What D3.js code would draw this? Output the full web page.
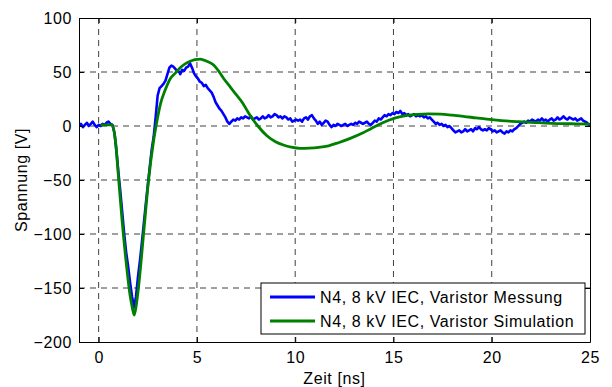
<!DOCTYPE html>
<html>
<head>
<meta charset="utf-8">
<script src="https://cdnjs.cloudflare.com/ajax/libs/d3/7.8.5/d3.min.js"></script>
<style>
  html, body { margin: 0; padding: 0; background: #fff; }
  text { font-family: "Liberation Sans", Arial, sans-serif; }
</style>
</head>
<body>
<div id="chart"></div>
<script>
// ticks
var xTicks = [0, 5, 10, 15, 20, 25];
var yTicks = [-200, -150, -100, -50, 0, 50, 100];
var xLabel = "Zeit [ns]";
var yLabel = "Spannung [V]";
var legendNames = ["N4, 8 kV IEC, Varistor Messung", "N4, 8 kV IEC, Varistor Simulation"];

// measurement (blue), [t ns, U V]
var messung = [
  [-1.0,0],[-0.9,2],[-0.8,-1],[-0.7,1],[-0.6,3],[-0.5,0],[-0.4,2],[-0.3,4],[-0.2,1],[-0.1,-1],
  [0.0,1],[0.1,0],[0.2,2],[0.3,1],[0.4,3],[0.5,4],[0.6,2],[0.7,1],[0.8,-6],[0.9,-22],
  [1.0,-42],[1.1,-60],[1.2,-80],[1.3,-100],[1.4,-117],[1.5,-130],[1.6,-145],[1.7,-158],[1.8,-168],[1.9,-158],
  [2.0,-140],[2.1,-125],[2.2,-108],[2.3,-90],[2.4,-72],[2.5,-55],[2.6,-38],[2.7,-22],[2.8,-10],[2.9,8],
  [3.0,28],[3.1,35],[3.2,37],[3.3,39],[3.4,42],[3.5,48],[3.6,54],[3.7,56],[3.8,55],[3.9,53],
  [4.0,51],[4.1,50],[4.15,48],[4.25,52],[4.35,51],[4.45,54],[4.55,55],[4.65,58],[4.75,54],[4.85,49],
  [4.95,46],[5.05,44],[5.15,41],[5.25,40],[5.35,37],[5.45,38],[5.55,35],[5.65,33],[5.75,31],[5.85,27],
  [5.95,22],[6.05,19],[6.15,16],[6.25,14],[6.35,11],[6.45,8],[6.55,4],[6.65,2],[6.75,4],[6.85,6],
  [6.95,5],[7.05,7],[7.15,6],[7.25,8],[7.35,7],[7.45,9],[7.55,8],[7.65,7],[7.75,9],[7.85,6],
  [7.95,7],[8.05,8],[8.15,6],[8.25,7],[8.35,9],[8.45,7],[8.55,8],[8.65,10],[8.75,8],[8.85,9],
  [8.95,11],[9.05,10],[9.15,8],[9.25,9],[9.35,7],[9.45,9],[9.55,8],[9.65,6],[9.75,7],[9.85,4],
  [9.95,5],[10.05,6],[10.15,5],[10.25,6],[10.35,4],[10.45,7],[10.55,8],[10.65,6],[10.75,9],[10.85,10],
  [10.95,7],[11.05,5],[11.15,2],[11.25,4],[11.35,1],[11.45,3],[11.55,5],[11.65,4],[11.75,1],[11.85,-1],
  [11.95,1],[12.05,0],[12.15,2],[12.25,1],[12.35,0],[12.45,1],[12.55,2],[12.65,0],[12.75,1],[12.85,2],
  [12.95,1],[13.05,3],[13.15,2],[13.25,4],[13.35,3],[13.45,2],[13.55,3],[13.65,4],[13.75,2],[13.85,1],
  [13.95,3],[14.05,5],[14.15,4],[14.25,7],[14.35,6],[14.45,8],[14.55,10],[14.65,9],[14.75,11],[14.85,10],
  [14.95,12],[15.05,11],[15.15,13],[15.25,12],[15.35,14],[15.45,11],[15.55,12],[15.65,10],[15.75,11],[15.85,9],
  [15.95,10],[16.05,11],[16.15,9],[16.25,10],[16.35,9],[16.45,10],[16.55,8],[16.65,9],[16.75,7],[16.85,8],
  [16.95,6],[17.05,4],[17.15,2],[17.25,3],[17.35,1],[17.45,2],[17.55,0],[17.65,1],[17.75,-1],[17.85,0],
  [17.95,-2],[18.05,-4],[18.15,-6],[18.25,-5],[18.35,-4],[18.45,-6],[18.55,-5],[18.65,-3],[18.75,-5],[18.85,-4],
  [18.95,-3],[19.05,-5],[19.15,-2],[19.25,-3],[19.35,-1],[19.45,-3],[19.55,-4],[19.65,-3],[19.75,-4],[19.85,-2],
  [19.95,-3],[20.05,-5],[20.15,-4],[20.25,-6],[20.35,-5],[20.45,-4],[20.55,-6],[20.65,-7],[20.75,-5],[20.85,-6],
  [20.95,-4],[21.05,-5],[21.15,-3],[21.25,-2],[21.35,0],[21.45,2],[21.55,3],[21.65,4],[21.75,3],[21.85,5],
  [21.95,4],[22.05,6],[22.15,5],[22.25,4],[22.35,6],[22.45,5],[22.55,7],[22.65,5],[22.75,6],[22.85,4],
  [22.95,6],[23.05,7],[23.15,5],[23.25,6],[23.35,8],[23.45,6],[23.55,7],[23.65,9],[23.75,7],[23.85,6],
  [23.95,8],[24.05,7],[24.15,6],[24.25,7],[24.35,5],[24.45,6],[24.55,7],[24.65,5],[24.75,4],[24.85,3],
  [24.95,1],[25.0,1]
];

// simulation (green), [t ns, U V]
var simulation = [
  [0.1,1],[0.5,1],[0.68,1],[0.85,-13],[1.02,-50],[1.19,-87],[1.44,-133],[1.6,-157],[1.7,-167],[1.81,-175],
  [1.92,-165],[2.03,-149],[2.29,-99],[2.54,-50],[2.8,-13],[2.95,3],[3.14,20],[3.4,34],[3.65,44],[3.9,49],
  [4.15,54],[4.4,57.5],[4.66,60],[4.9,61.5],[5.17,62],[5.5,60],[5.85,56.5],[6.1,51],[6.36,44],[6.7,36],
  [7.0,29],[7.3,22],[7.6,13],[7.85,6],[8.1,0],[8.56,-9],[9.0,-14.5],[9.4,-17.6],[9.8,-19.6],[10.25,-20.7],
  [10.7,-20.5],[11.2,-19.8],[11.7,-18.3],[12.2,-15.5],[12.8,-11.5],[13.4,-6.8],[13.9,-2],[14.4,2.5],[15.1,7.5],[15.7,9.8],
  [16.2,10.8],[16.8,11.2],[17.4,11],[18.0,10],[18.55,9],[19.2,7.5],[19.75,6.3],[20.5,5],[21.35,4],[22.2,3.2],
  [23.05,2.5],[24.0,2.1],[25.0,1.8]
];

var W = 612, H = 387;
var fs = 16, ls = "0.6px";

var svg = d3.select("#chart").append("svg").attr("width", W).attr("height", H);

var x = d3.scaleLinear().domain([-1, 25]).range([79, 590]);
var y = d3.scaleLinear().domain([-200, 100]).range([342, 18]);

// grid
svg.selectAll(".gx").data(xTicks.filter(function(d){return d > -1 && d < 25;})).enter().append("line")
  .attr("x1", function(d){return x(d);}).attr("x2", function(d){return x(d);})
  .attr("y1", y(100)).attr("y2", y(-200))
  .attr("stroke", "#404040").attr("stroke-width", 1).attr("stroke-dasharray", "6,5");
svg.selectAll(".gy").data(yTicks.filter(function(d){return d > -200 && d < 100;})).enter().append("line")
  .attr("x1", x(-1)).attr("x2", x(25))
  .attr("y1", function(d){return y(d);}).attr("y2", function(d){return y(d);})
  .attr("stroke", "#404040").attr("stroke-width", 1).attr("stroke-dasharray", "6,5");

// clip
svg.append("clipPath").attr("id", "clip").append("rect")
  .attr("x", x(-1)).attr("y", y(100)).attr("width", x(25) - x(-1)).attr("height", y(-200) - y(100));

var line = d3.line().x(function(d){return x(d[0]);}).y(function(d){return y(d[1]);});

svg.append("path").datum(messung).attr("d", line).attr("clip-path", "url(#clip)")
  .attr("fill", "none").attr("stroke", "#0000ff").attr("stroke-width", 2.6).attr("stroke-linejoin", "round");
svg.append("path").datum(simulation).attr("d", line.curve(d3.curveMonotoneX)).attr("clip-path", "url(#clip)")
  .attr("fill", "none").attr("stroke", "#008000").attr("stroke-width", 2.8).attr("stroke-linejoin", "round");

// axes, ticks inward
var axBottom = svg.append("g").attr("transform", "translate(0," + y(-200) + ")")
  .call(d3.axisBottom(x).tickValues(xTicks).tickSizeInner(-5).tickSizeOuter(0).tickPadding(9));
var axTop = svg.append("g").attr("transform", "translate(0," + y(100) + ")")
  .call(d3.axisTop(x).tickValues(xTicks).tickSizeInner(-5).tickSizeOuter(0).tickFormat(""));
var axLeft = svg.append("g").attr("transform", "translate(" + x(-1) + ",0)")
  .call(d3.axisLeft(y).tickValues(yTicks).tickSizeInner(-5).tickSizeOuter(0).tickPadding(7));
var axRight = svg.append("g").attr("transform", "translate(" + x(25) + ",0)")
  .call(d3.axisRight(y).tickValues(yTicks).tickSizeInner(-5).tickSizeOuter(0).tickFormat(""));
[axBottom, axTop, axLeft, axRight].forEach(function(g){
  g.selectAll("path").attr("stroke", "#000").attr("stroke-width", 1);
  g.selectAll("line").attr("stroke", "#000");
  g.selectAll("text").attr("font-size", fs).attr("fill", "#000").style("letter-spacing", ls)
    .style("font-family", "'Liberation Sans', Arial, sans-serif");
});
axBottom.selectAll("text").attr("dy", "0.75em");

// labels
svg.append("text").attr("x", (x(-1) + x(25)) / 2).attr("y", 384).attr("text-anchor", "middle")
  .attr("font-size", fs).style("letter-spacing", ls).text(xLabel);
svg.append("text").attr("transform", "translate(27," + ((y(100) + y(-200)) / 2) + ") rotate(-90)")
  .attr("text-anchor", "middle").attr("font-size", fs).style("letter-spacing", ls).text(yLabel);

// legend
var lg = svg.append("g");
lg.append("rect").attr("x", 261).attr("y", 283).attr("width", 324).attr("height", 51)
  .attr("fill", "#fff").attr("stroke", "#000").attr("stroke-width", 1);
var legendColors = ["#0000ff", "#008000"];
legendNames.forEach(function(name, i){
  var ly = 297 + i * 24;
  lg.append("line").attr("x1", 270).attr("x2", 315).attr("y1", ly).attr("y2", ly)
    .attr("stroke", legendColors[i]).attr("stroke-width", 3);
  lg.append("text").attr("x", 320).attr("y", ly).attr("dy", "0.35em").attr("font-size", fs)
    .style("letter-spacing", ls).text(name);
});
</script>
</body>
</html>
